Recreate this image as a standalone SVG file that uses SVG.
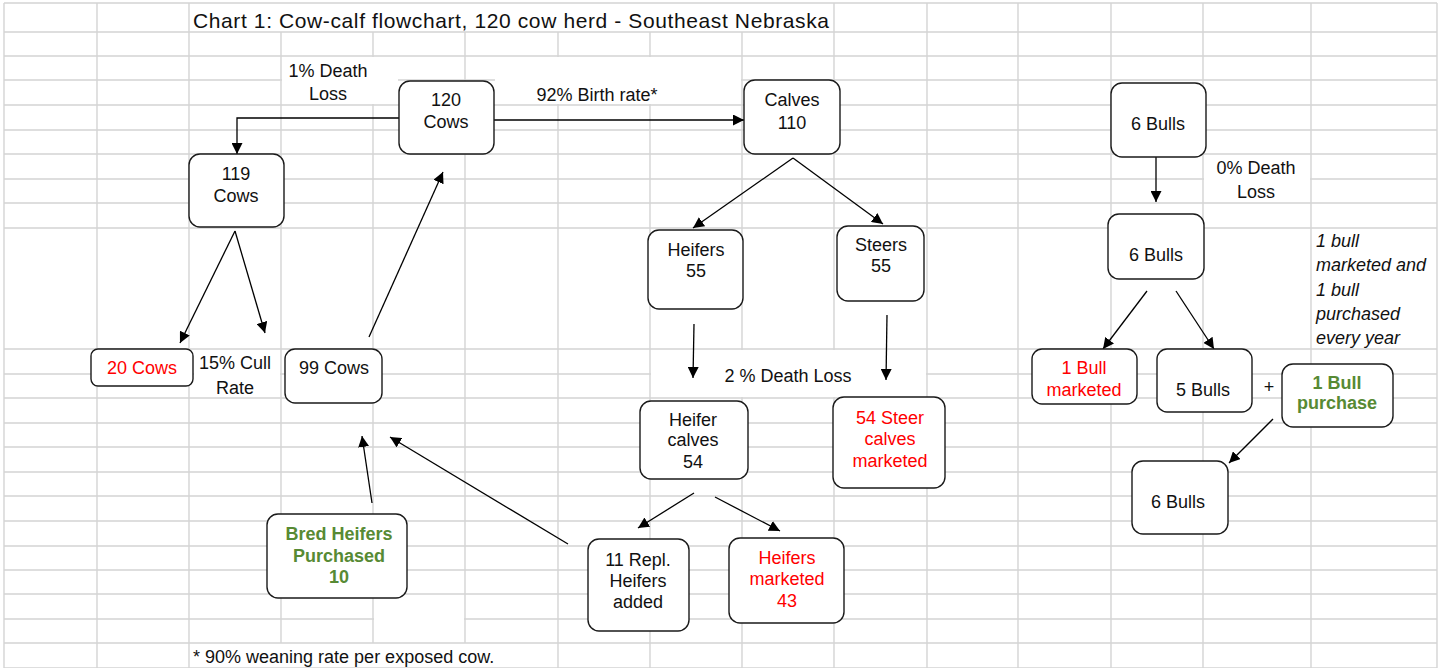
<svg xmlns="http://www.w3.org/2000/svg" width="1440" height="668" viewBox="0 0 1440 668">
<defs>
<style>
.grid{stroke:#d4d4d4;stroke-width:1.4;fill:none}
.bg{fill:#ffffff}
.box{fill:#ffffff;stroke:#1a1a1a;stroke-width:1.4}
.c{stroke:#000;stroke-width:1.3;fill:none;marker-end:url(#ah)}
text{font-family:"Liberation Sans",Arial,sans-serif;font-size:18px;fill:#111}
.m{text-anchor:middle}
.red{fill:#ff0000}
.grn{fill:#578a34;font-weight:bold}
.it{font-style:italic}
</style>
<marker id="ah" viewBox="0 0 10 10" refX="10" refY="5" markerWidth="11" markerHeight="11" markerUnits="userSpaceOnUse" orient="auto">
<path d="M0,0 L10,5 L0,10 z" fill="#000"/>
</marker>
</defs>
<rect x="0" y="0" width="1440" height="668" fill="#fff"/>
<g id="grid" class="grid">
<path d="M4,3V668 M97,3V668 M189,3V668 M281,32V643 M373,32V643 M465,32V643 M558,32V668 M650,32V668 M742,32V668 M834,3V668 M927,3V668 M1018,3V668 M1111,3V668 M1203,3V668 M1311,3V668 M1437,3V668"/>
<path d="M4,3H1437 M4,32H1437 M4,56H1437 M4,80H1437 M4,105H1437 M4,130H1437 M4,154H1437 M4,179H1437 M4,203H1437 M4,228H1437 M4,349H1437 M4,374H1437 M4,398H1437 M4,423H1437 M4,447H1437 M4,472H1437 M4,496H1437 M4,521H1437 M4,546H1437 M4,570H1437 M4,594H1437 M4,619H1437 M4,643H1437 M4,668H1437"/>
<rect class="bg" x="374" y="595" width="90" height="47" stroke="none"/>
</g>
<g id="labels">
<text x="193" y="28" style="font-size:21px" textLength="636" lengthAdjust="spacing">Chart 1: Cow-calf flowchart, 120 cow herd - Southeast Nebraska</text>
<g id="lbl-death1"><rect class="bg" x="282" y="57" width="116" height="47"/><text class="m" x="328" y="77">1% Death</text><text class="m" x="328" y="100">Loss</text></g>
<g id="lbl-birth"><rect class="bg" x="495" y="57" width="246" height="47"/><text class="m" x="597" y="101">92% Birth rate*</text></g>
<g id="lbl-death0"><rect class="bg" x="1204" y="155" width="106" height="47"/><text class="m" x="1256" y="174">0% Death</text><text class="m" x="1256" y="198">Loss</text></g>
<g id="lbl-cull"><rect class="bg" x="194" y="350" width="86" height="47"/><text class="m" x="235" y="369">15% Cull</text><text class="m" x="235" y="394">Rate</text></g>
<g id="lbl-death2"><rect class="bg" x="651" y="350" width="275" height="47"/><text class="m" x="788" y="382">2 % Death Loss</text></g>
<g id="lbl-bullnote"><text class="it" x="1316" y="247">1 bull</text><text class="it" x="1316" y="271">marketed and</text><text class="it" x="1316" y="296">1 bull</text><text class="it" x="1316" y="320">purchased</text><text class="it" x="1316" y="344">every year</text></g>
<g id="lbl-plus"><text class="m" x="1269" y="393">+</text></g>
<g id="lbl-foot"><text x="193" y="663">* 90% weaning rate per exposed cow.</text></g>
</g>
<g id="connectors">
<path class="c" d="M399,118 H237 V154"/>
<path class="c" d="M494,120 H744"/>
<path class="c" d="M793,158 L693,228"/>
<path class="c" d="M793,158 L883,224"/>
<path class="c" d="M235,231 L180,343"/>
<path class="c" d="M235,231 L265,333"/>
<path class="c" d="M369,337 L443,172"/>
<path class="c" d="M372,503 L362,436"/>
<path class="c" d="M568,544 L390,437"/>
<path class="c" d="M694,324 L693,378"/>
<path class="c" d="M887,315 L886,380"/>
<path class="c" d="M694,493 L638,528"/>
<path class="c" d="M715,497 L780,531"/>
<path class="c" d="M1156,157 V202"/>
<path class="c" d="M1147,291 L1103,349"/>
<path class="c" d="M1176,291 L1214,349"/>
<path class="c" d="M1273,419 L1229,463"/>
</g>
<g id="n-120cows"><rect class="box" x="399" y="81" width="95" height="73" rx="11"/><text class="m" x="446" y="106">120</text><text class="m" x="446" y="128">Cows</text></g>
<g id="n-calves"><rect class="box" x="744" y="80" width="96" height="74" rx="11"/><text class="m" x="792" y="106">Calves</text><text class="m" x="792" y="129">110</text></g>
<g id="n-6bulls-a"><rect class="box" x="1111" y="83" width="95" height="74" rx="11"/><text class="m" x="1158" y="130">6 Bulls</text></g>
<g id="n-119cows"><rect class="box" x="189" y="154" width="95" height="73" rx="11"/><text class="m" x="236" y="180">119</text><text class="m" x="236" y="202">Cows</text></g>
<g id="n-6bulls-b"><rect class="box" x="1108" y="214" width="96" height="65" rx="11"/><text class="m" x="1156" y="261">6 Bulls</text></g>
<g id="n-heifers55"><rect class="box" x="648" y="230" width="95" height="79" rx="11"/><text class="m" x="696" y="256">Heifers</text><text class="m" x="696" y="277">55</text></g>
<g id="n-steers55"><rect class="box" x="837" y="226" width="87" height="75" rx="11"/><text class="m" x="881" y="251">Steers</text><text class="m" x="881" y="272">55</text></g>
<g id="n-20cows"><rect class="box" x="91" y="349" width="102" height="37" rx="7"/><text class="m red" x="142" y="374">20 Cows</text></g>
<g id="n-99cows"><rect class="box" x="285" y="349" width="97" height="54" rx="10"/><text class="m" x="334" y="374">99 Cows</text></g>
<g id="n-1bullmkt"><rect class="box" x="1032" y="349" width="105" height="55" rx="10"/><text class="m red" x="1084" y="374">1 Bull</text><text class="m red" x="1084" y="396">marketed</text></g>
<g id="n-5bulls"><rect class="box" x="1157" y="349" width="95" height="63" rx="10"/><text class="m" x="1203" y="396">5 Bulls</text></g>
<g id="n-1bullpur"><rect class="box" x="1282" y="364" width="111" height="63" rx="11"/><text class="m grn" x="1337" y="389">1 Bull</text><text class="m grn" x="1337" y="409">purchase</text></g>
<g id="n-heifercalves"><rect class="box" x="640" y="401" width="108" height="78" rx="11"/><text class="m" x="693" y="426">Heifer</text><text class="m" x="693" y="446">calves</text><text class="m" x="693" y="468">54</text></g>
<g id="n-steermkt"><rect class="box" x="833" y="397" width="112" height="91" rx="11"/><text class="m red" x="890" y="424">54 Steer</text><text class="m red" x="890" y="445">calves</text><text class="m red" x="890" y="467">marketed</text></g>
<g id="n-6bulls-c"><rect class="box" x="1132" y="461" width="96" height="73" rx="11"/><text class="m" x="1178" y="508">6 Bulls</text></g>
<g id="n-bredheifers"><rect class="box" x="267" y="514" width="140" height="84" rx="11"/><text class="m grn" x="339" y="540">Bred Heifers</text><text class="m grn" x="339" y="562">Purchased</text><text class="m grn" x="339" y="583">10</text></g>
<g id="n-repl"><rect class="box" x="588" y="539" width="101" height="92" rx="11"/><text class="m" x="638" y="566">11 Repl.</text><text class="m" x="638" y="587">Heifers</text><text class="m" x="638" y="608">added</text></g>
<g id="n-heifmkt"><rect class="box" x="729" y="538" width="115" height="85" rx="11"/><text class="m red" x="787" y="564">Heifers</text><text class="m red" x="787" y="585">marketed</text><text class="m red" x="787" y="607">43</text></g>
</svg>
